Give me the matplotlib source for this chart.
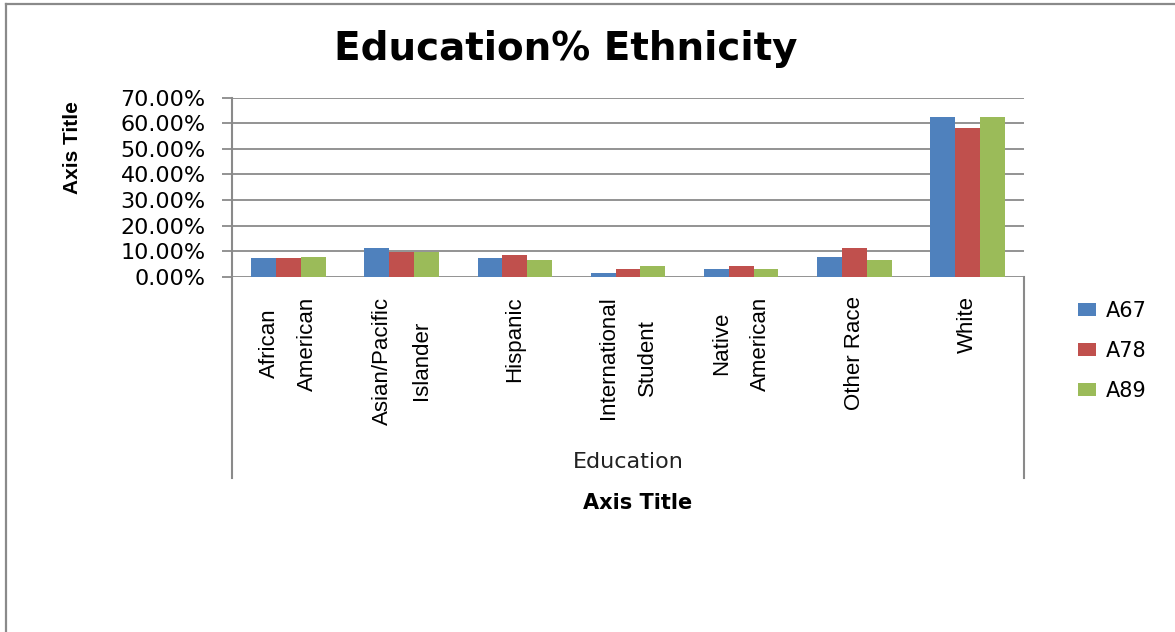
import numpy as np
import matplotlib
matplotlib.use('Agg')
import matplotlib.pyplot as plt
from matplotlib.lines import Line2D
from matplotlib.ticker import FuncFormatter

categories = ['African\nAmerican', 'Asian/Pacific\nIslander', 'Hispanic',
              'International\nStudent', 'Native\nAmerican', 'Other Race', 'White']
series_names = ['A67', 'A78', 'A89']
a67 = [7.5, 11.4, 7.5, 1.7, 3.2, 7.9, 62.4]
a78 = [7.5, 9.6, 8.7, 3.2, 4.4, 11.4, 58.1]
a89 = [7.9, 9.6, 6.7, 4.4, 3.2, 6.7, 62.4]
y_ticks = [0, 10, 20, 30, 40, 50, 60, 70]

colors = ['#4F81BD', '#C0504D', '#9BBB59']
grey = '#8a8a8a'
narrow = ['Liberation Sans', 'DejaVu Sans']

W, H = 1175, 632
fig = plt.figure(figsize=(W / 100, H / 100), dpi=100)
ax = fig.add_axes([232 / W, 1 - 277 / H, (1024 - 232) / W, (277 - 97.5) / H])

x = np.arange(len(categories))
bw = 0.22
for i, (vals, name) in enumerate(zip([a67, a78, a89], series_names)):
    ax.bar(x + (i - 1) * bw, vals, width=bw, color=colors[i], label=name, zorder=3)

ax.set_xlim(-0.5, len(categories) - 0.5)
ax.set_ylim(0, 70)
ax.set_yticks(y_ticks)
ax.yaxis.set_major_formatter(FuncFormatter(lambda v, p: f'{v:.2f}%'))
ax.yaxis.grid(True, color=grey, linewidth=1.3, zorder=0)
ax.tick_params(axis='y', length=7, width=1.3, color=grey, pad=12, labelsize=16)
for lab in ax.get_yticklabels():
    lab.set_fontfamily('DejaVu Sans')

ax.set_xticks(x)
ax.set_xticklabels(categories, rotation=90, fontsize=16, family=narrow, linespacing=2.1)
ax.tick_params(axis='x', length=0, pad=14)
for lab in ax.get_xticklabels():
    lab.set_multialignment('center')

for s in ax.spines.values():
    s.set_visible(False)

# category axis box lines (Excel style, reaching down into the label area)
ext = -(478 - 277) / (277 - 97.5)
ax.plot([0, 0], [1, ext], transform=ax.transAxes, color=grey, lw=1.5, clip_on=False)
ax.plot([1, 1], [0, ext], transform=ax.transAxes, color=grey, lw=1.5, clip_on=False)

# outer chart border (top and left)
fig.add_artist(Line2D([6 / W, 1], [1 - 4 / H, 1 - 4 / H], transform=fig.transFigure, color=grey, lw=1.6))
fig.add_artist(Line2D([6 / W, 6 / W], [0, 1 - 4 / H], transform=fig.transFigure, color=grey, lw=1.6))

fig.text(566 / W, 1 - 49 / H, 'Education% Ethnicity', ha='center', va='center',
         fontsize=28, fontweight='bold', family='DejaVu Sans')
fig.text(72 / W, 1 - 148 / H, 'Axis Title', rotation=90, ha='center', va='center',
         fontsize=15, fontweight='bold', family=narrow)
fig.text(628 / W, 1 - 462 / H, 'Education', ha='center', va='center',
         fontsize=16, family='DejaVu Sans', color='#222222')
fig.text(638 / W, 1 - 503 / H, 'Axis Title', ha='center', va='center',
         fontsize=15, fontweight='bold', family='DejaVu Sans')

ax.legend(loc='upper left', bbox_to_anchor=(1078 / W, 1 - 301 / H), bbox_transform=fig.transFigure,
          frameon=False, fontsize=15, handlelength=0.85, handleheight=0.6,
          handletextpad=0.5, labelspacing=0.95, borderpad=0, borderaxespad=0)

fig.savefig('out.png', dpi=100)
